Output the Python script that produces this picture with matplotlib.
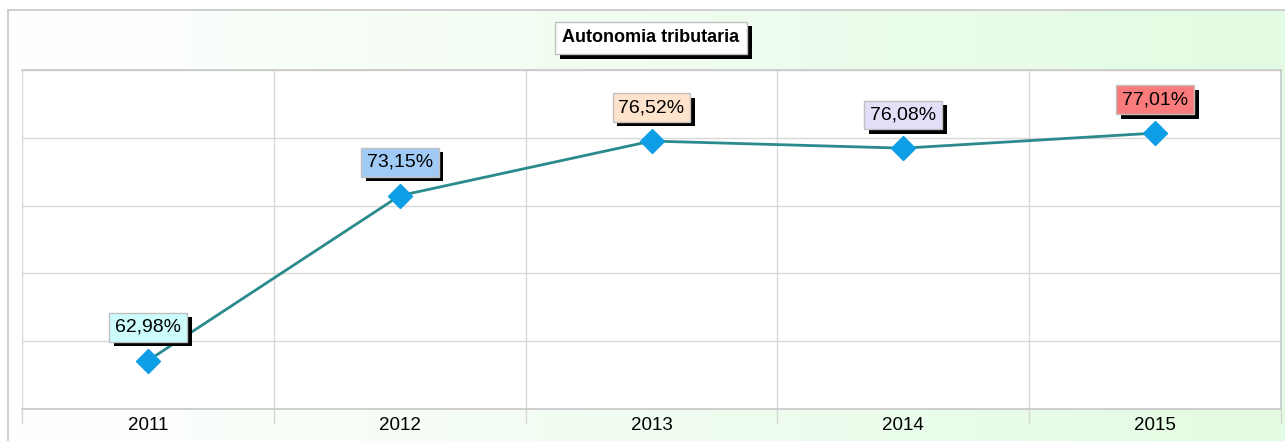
import numpy as np
import matplotlib
matplotlib.use("Agg")
import matplotlib.pyplot as plt
import matplotlib.patheffects as pe

plt.rcParams['font.family'] = ['Liberation Sans', 'DejaVu Sans']

years = ['2011', '2012', '2013', '2014', '2015']
values = [62.98, 73.15, 76.52, 76.08, 77.01]
labels = ['62,98%', '73,15%', '76,52%', '76,08%', '77,01%']
box_colors = ['#ccfcfc', '#9fcbf6', '#fde2cc', '#e5def9', '#f97b7b']

W, H = 1285, 441
fig = plt.figure(figsize=(W / 100, H / 100), dpi=100)

# background panel with a white -> light green gradient
bg = fig.add_axes([8 / W, 0, 1 - 8 / W, 1 - 10 / H])
grad = np.linspace(0, 1, 256).reshape(1, -1)
start = np.array([1.0, 1.0, 1.0])
end = np.array([0xe2, 0xfb, 0xe2]) / 255
img = start + (end - start) * grad[..., None]
bg.imshow(img, aspect='auto', extent=[0, 1, 0, 1])
bg.set_xlim(0, 1)
bg.set_ylim(0, 1)
bg.set_xticks([])
bg.set_yticks([])
for s in ['right', 'bottom']:
    bg.spines[s].set_visible(False)
for s in ['left', 'top']:
    bg.spines[s].set_color('#c8c8c8')
    bg.spines[s].set_linewidth(1.2)

ax = fig.add_axes([22 / W, 1 - 409 / H, 1259 / W, 339 / H])
ax.set_facecolor('white')
x = np.arange(len(years))
ax.plot(x, values, color='#2b8a8c', lw=2.0, zorder=3)
ax.plot(x, values, 'D', color='#0d9ee6', ms=12, zorder=4)

ax.set_xlim(-0.5, len(years) - 0.5)
ax.set_ylim(60, 80.9)
ax.set_yticks(np.linspace(60, 80.9, 6))
ax.set_yticklabels([])
ax.tick_params(axis='y', length=0)
ax.set_xticks(x)
ax.set_xticklabels(years, fontsize=13.5)
ax.set_xticks(np.arange(-0.5, len(years)), minor=True)
ax.tick_params(axis='x', which='major', length=0, pad=6)
ax.tick_params(axis='x', which='minor', length=10, color='#d4d4d4', width=1)
ax.grid(axis='y', color='#d8d8d8', lw=1)
ax.grid(axis='x', which='minor', color='#d8d8d8', lw=1)
for s in ax.spines.values():
    s.set_color('#c8c8c8')
    s.set_linewidth(1.2)
ax.spines['left'].set_visible(False)

shadow = [pe.SimplePatchShadow(offset=(3.5, -3.2), shadow_rgbFace='black', alpha=1), pe.Normal()]

for xi, v, lab, c in zip(x, values, labels, box_colors):
    t = ax.annotate(lab, (xi, v), xytext=(0, 24), textcoords='offset points',
                    ha='center', va='center', fontsize=14, zorder=6,
                    bbox=dict(boxstyle='square,pad=0.3', fc=c, ec='#c0c0c0', lw=1))
    t.get_bbox_patch().set_path_effects(shadow)

tt = fig.text(651 / W, 1 - 38 / H, 'Autonomia tributaria', ha='center', va='center',
              fontsize=13, fontweight='bold',
              bbox=dict(boxstyle='square,pad=0.42', fc='white', ec='#c0c0c0', lw=1))
tt.get_bbox_patch().set_path_effects(shadow)

fig.savefig('out.png', dpi=100)
